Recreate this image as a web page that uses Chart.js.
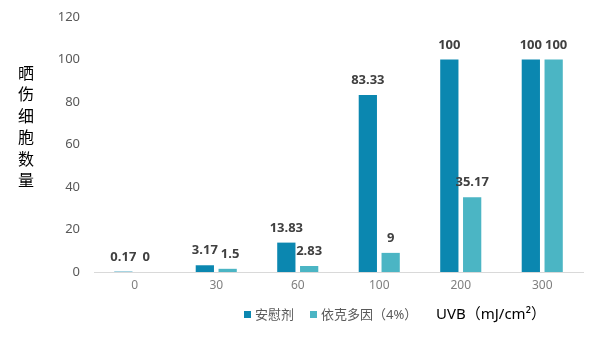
<!DOCTYPE html>
<html>
<head>
<meta charset="utf-8">
<script src="https://cdn.jsdelivr.net/npm/chart.js@4/dist/chart.umd.min.js"></script>
<style>
  body { margin: 0; background: #fff; }
  #wrap { width: 615px; height: 348px; position: relative; }
</style>
</head>
<body>
<div id="wrap"><canvas id="uvbChart"></canvas></div>
<script>
// data
const doses = ['0', '30', '60', '100', '200', '300'];
const placebo = [0.17, 3.17, 13.83, 83.33, 100, 100];
const ectoin = [0, 1.5, 2.83, 9, 35.17, 100];
const seriesNames = ['安慰剂', '依克多因（4%）'];
const yTitle = ['晒', '伤', '细', '胞', '数', '量'];
const xTitle = 'UVB（mJ/cm²）';

const FONT = '"Noto Sans", "Noto Sans CJK SC", sans-serif';
const blue = '#0b87b0';
const teal = '#4bb5c4';

// value labels above bars, nudged right when two labels really collide
const valueLabels = {
    id: 'valueLabels',
    afterDatasetsDraw(chart) {
        const ctx = chart.ctx;
        ctx.save();
        ctx.font = 'bold 13px ' + FONT;
        ctx.fillStyle = '#404040';
        ctx.textAlign = 'center';
        ctx.textBaseline = 'bottom';
        const prev = [];
        chart.data.datasets.forEach((ds, i) => {
            chart.getDatasetMeta(i).data.forEach((bar, j) => {
                const txt = String(ds.data[j]);
                const w = ctx.measureText(txt).width;
                const y = bar.y - 8;
                let x = bar.x;
                const p = prev[j];
                if (p && Math.abs(p.y - y) < 14 && x - w / 2 < p.right + 3) {
                    x = p.right + 3 + w / 2;
                }
                prev[j] = { right: x + w / 2, y: y };
                ctx.fillText(txt, x, y);
            });
        });
        ctx.restore();
    }
};

// vertical y title, legend and x title
const extras = {
    id: 'extras',
    afterDraw(chart) {
        const ctx = chart.ctx;
        ctx.save();
        ctx.font = '16px ' + FONT;
        ctx.fillStyle = '#000';
        ctx.textAlign = 'center';
        ctx.textBaseline = 'middle';
        yTitle.forEach((ch, i) => ctx.fillText(ch, 26, 74 + i * 21.5));

        const ly = 315;
        ctx.font = '13px ' + FONT;
        ctx.textAlign = 'left';
        ctx.fillStyle = blue;
        ctx.fillRect(244, ly - 4, 7, 7);
        ctx.fillStyle = '#595959';
        ctx.fillText(seriesNames[0], 255, ly);
        ctx.fillStyle = teal;
        ctx.fillRect(310, ly - 4, 7, 7);
        ctx.fillStyle = '#595959';
        ctx.fillText(seriesNames[1], 321, ly);

        ctx.font = '15px ' + FONT;
        ctx.fillStyle = '#000';
        ctx.fillText(xTitle, 436, ly);
        ctx.restore();
    }
};

const ctx = document.getElementById('uvbChart').getContext('2d');
new Chart(ctx, {
    type: 'bar',
    data: {
        labels: doses,
        datasets: [
            { label: seriesNames[0], data: placebo, backgroundColor: blue },
            { label: seriesNames[1], data: ectoin, backgroundColor: teal }
        ]
    },
    options: {
        responsive: true,
        maintainAspectRatio: false,
        animation: false,
        events: [],
        categoryPercentage: 0.56,
        barPercentage: 0.8,
        layout: { padding: { top: 17, right: 32, left: 0, bottom: 0 } },
        plugins: {
            legend: { display: false },
            tooltip: { enabled: false }
        },
        scales: {
            x: {
                grid: { display: false, drawTicks: false },
                border: { display: true, color: '#d9d9d9', width: 1 },
                ticks: { color: '#7f7f7f', font: { family: FONT, size: 12 }, padding: 6 },
                afterFit(scale) { scale.height = 76; }
            },
            y: {
                min: 0,
                max: 120,
                grid: { display: false, drawTicks: false },
                border: { display: false },
                ticks: { stepSize: 20, color: '#595959', font: { family: FONT, size: 13 }, padding: 14 },
                afterFit(scale) {
                    scale.width = 94;
                    scale.paddingTop = 0;
                    scale.paddingBottom = 0;
                }
            }
        }
    },
    plugins: [valueLabels, extras]
});
</script>
</body>
</html>
